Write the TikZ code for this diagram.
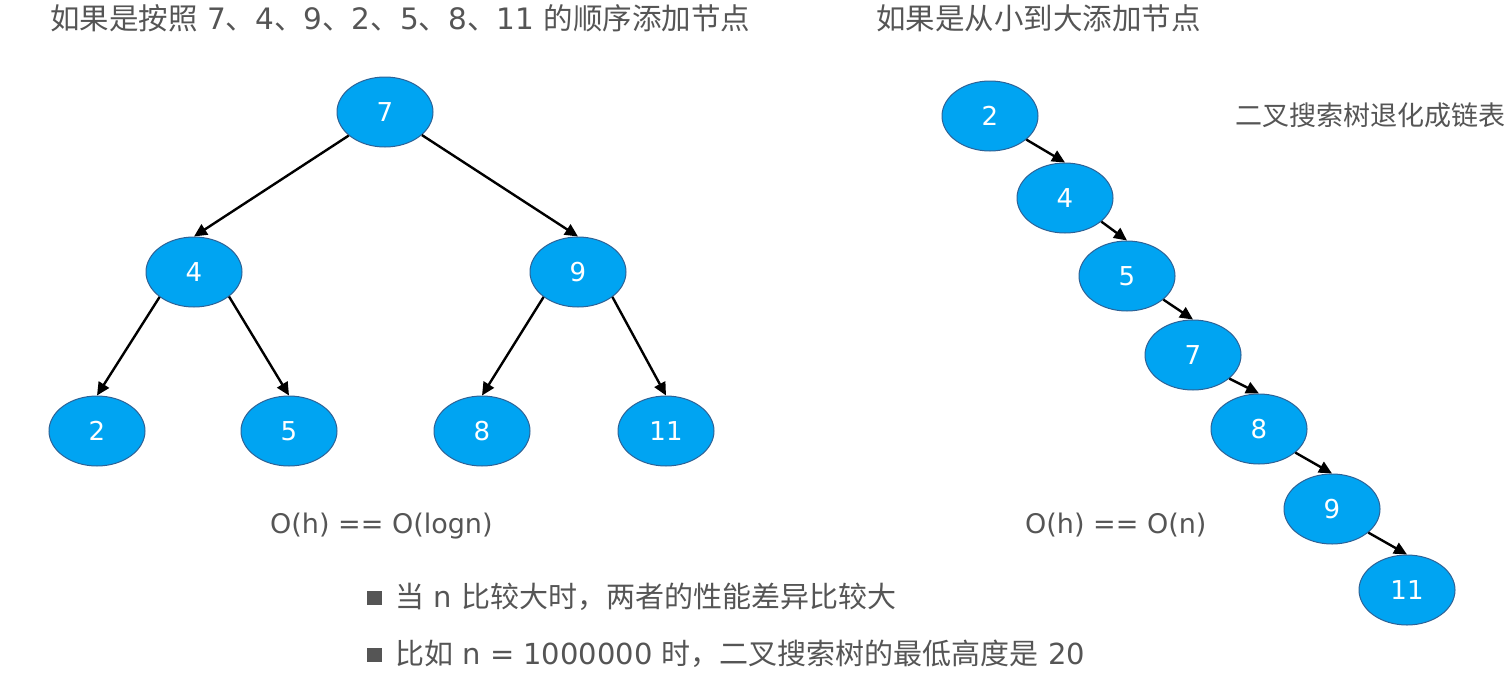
\documentclass[tikz,border=0pt]{standalone}
\usepackage{fontspec}
\setmainfont{Noto Sans CJK SC}
\newfontfamily\lat{DejaVu Sans}
\usetikzlibrary{shapes.geometric,arrows.meta}

\definecolor{nodeblue}{RGB}{0,164,242}
\definecolor{nodeedge}{RGB}{46,98,150}
\definecolor{textgray}{RGB}{85,85,85}

\tikzset{
  bst/.style={ellipse,draw=nodeedge,line width=1pt,fill=nodeblue,
    minimum width=96pt,minimum height=70pt,inner sep=0pt,
    text=white,font=\lat\fontsize{26}{30}\selectfont},
  link/.style={line width=2.4pt,-{Triangle[length=13pt,width=12pt]}},
  caption/.style={inner sep=0pt,anchor=base west,text=textgray},
}
\newcommand{\sqbullet}{\textcolor{textgray}{\raisebox{2pt}{\rule{15pt}{14pt}}}\hspace{13pt}}

\begin{document}
\begin{tikzpicture}[x=1pt,y=-1pt]
  \useasboundingbox (0,0) rectangle (1509,672);

  % balanced tree
  \node[bst] (t7) at (385,112) {7};
  \node[bst] (t4) at (194,272) {4};
  \node[bst] (t9) at (578,272) {9};
  \node[bst] (t2) at (97,431) {2};
  \node[bst] (t5) at (289,431) {5};
  \node[bst] (t8) at (482,431) {8};
  \node[bst] (t11) at (666,431) {11};

  \draw[link] (t7.213) -- (t4.north);
  \draw[link] (t7.328) -- (t9.north);
  \draw[link] (t4.216) -- (t2.north);
  \draw[link] (t4.325) -- (t5.north);
  \draw[link] (t9.216) -- (t8.north);
  \draw[link] (t9.324) -- (t11.north);

  % degenerate tree (chain)
  \node[bst] (c2) at (990,116) {2};
  \node[bst] (c4) at (1065,198) {4};
  \node[bst] (c5) at (1127,276) {5};
  \node[bst] (c7) at (1193,355) {7};
  \node[bst] (c8) at (1259,429) {8};
  \node[bst] (c9) at (1332,509) {9};
  \node[bst] (c11) at (1407,590) {11};

  \foreach \a/\b in {c2/c4,c4/c5,c5/c7,c7/c8,c8/c9,c9/c11}
    \draw[link] (\a.327) -- (\b.north);

  % texts
  \node[caption,font=\fontsize{29.5}{34}\selectfont] (title1) at (50,29)
    {如果是按照{\lat{} 7}、{\lat 4}、{\lat 9}、{\lat 2}、{\lat 5}、{\lat 8}、{\lat 11 }的顺序添加节点};
  \node[caption,font=\fontsize{29.5}{34}\selectfont] (title2) at (876,29)
    {如果是从小到大添加节点};
  \node[caption,font=\fontsize{27}{32}\selectfont] (degen) at (1235,125)
    {二叉搜索树退化成链表};
  \node[caption,font=\lat\fontsize{27}{31}\selectfont] (cost1) at (270,533)
    {O(h) == O(logn)};
  \node[caption,font=\lat\fontsize{27}{31}\selectfont] (cost2) at (1025,533)
    {O(h) == O(n)};
  \node[caption,font=\fontsize{29}{34}\selectfont] (note1) at (367,607)
    {\sqbullet 当{\lat{} n }比较大时，两者的性能差异比较大};
  \node[caption,font=\fontsize{29}{34}\selectfont] (note2) at (367,664)
    {\sqbullet 比如{\lat{} n = 1000000 }时，二叉搜索树的最低高度是{\lat{} 20}};
\end{tikzpicture}
\end{document}
